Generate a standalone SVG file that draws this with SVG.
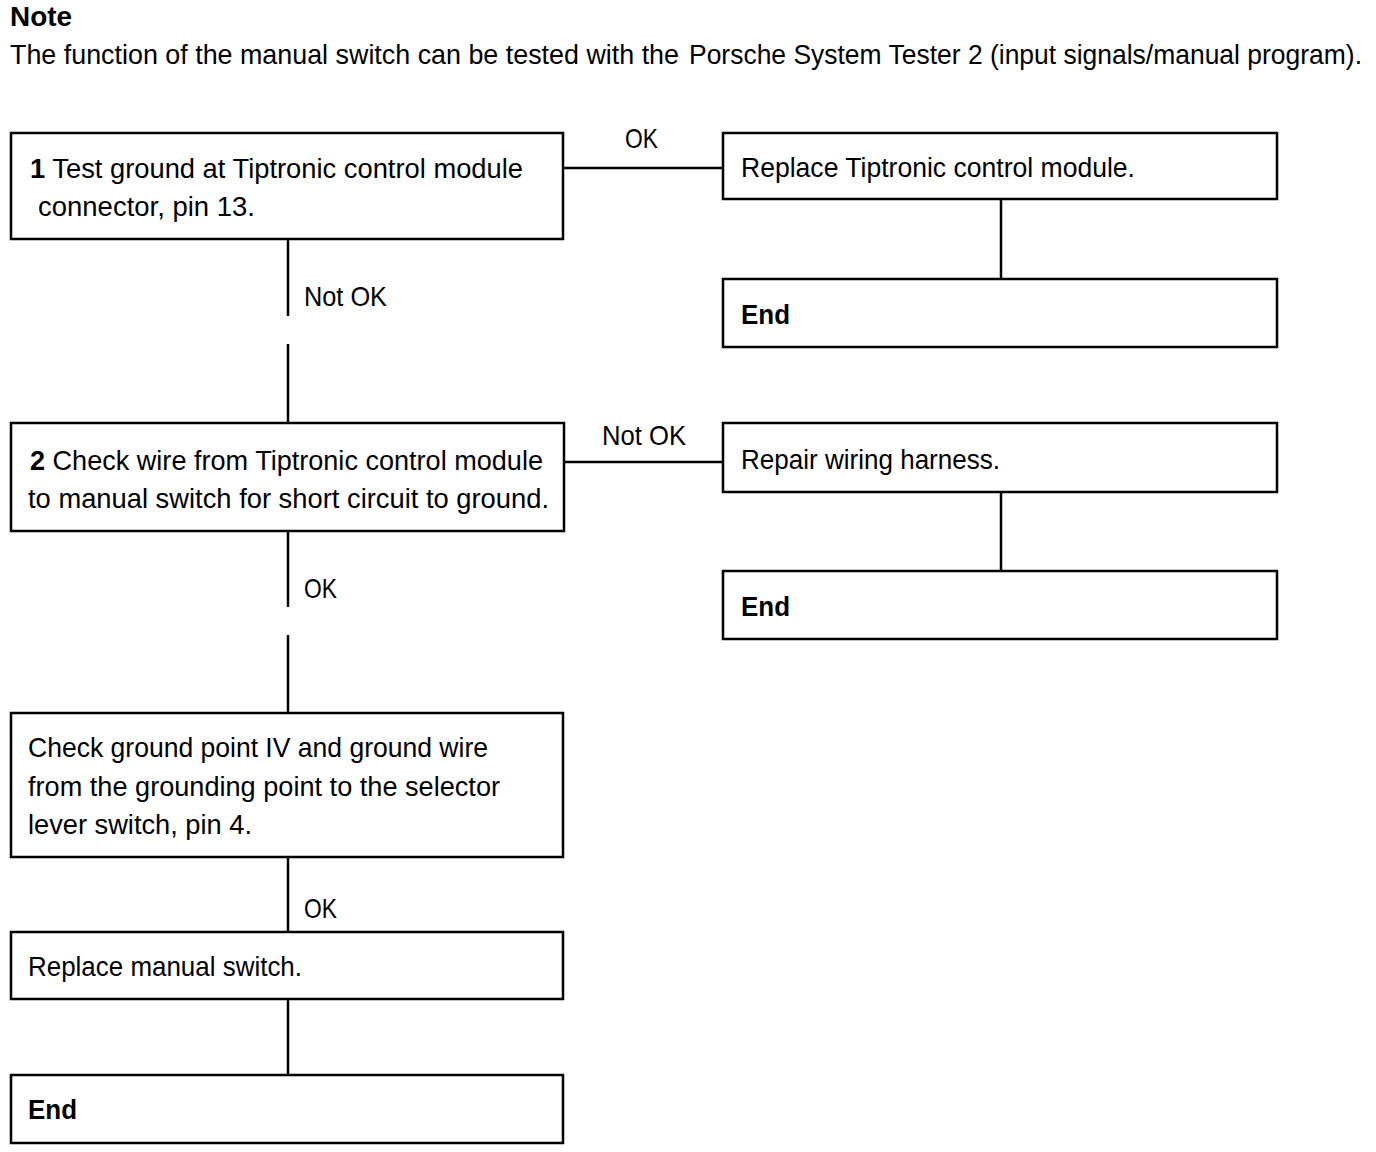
<svg xmlns="http://www.w3.org/2000/svg" width="1376" height="1152" viewBox="0 0 1376 1152">
<style>
.box{fill:#fff;stroke:#000;stroke-width:2.5}
.ln{stroke:#000;stroke-width:2.5;fill:none}
text{font-family:"Liberation Sans",Arial,sans-serif;font-size:27.5px;fill:#000}
.b{font-weight:bold}
</style>
<rect width="1376" height="1152" fill="#fff"/>
<g id="note">
<text x="10" y="26" class="b" textLength="62" lengthAdjust="spacingAndGlyphs">Note</text>
<text y="64" font-size="24"><tspan x="10" textLength="669" lengthAdjust="spacingAndGlyphs">The function of the manual switch can be tested with the</tspan><tspan x="689" textLength="673" lengthAdjust="spacingAndGlyphs">Porsche System Tester 2 (input signals/manual program).</tspan></text>
</g>
<g id="connectors">
<line class="ln" x1="563" y1="168" x2="723" y2="168"/>
<line class="ln" x1="1001" y1="199" x2="1001" y2="279"/>
<line class="ln" x1="288" y1="239" x2="288" y2="316"/>
<line class="ln" x1="288" y1="344" x2="288" y2="423"/>
<line class="ln" x1="564" y1="462" x2="723" y2="462"/>
<line class="ln" x1="1001" y1="492" x2="1001" y2="571"/>
<line class="ln" x1="288" y1="531" x2="288" y2="607"/>
<line class="ln" x1="288" y1="635" x2="288" y2="713"/>
<line class="ln" x1="288" y1="857" x2="288" y2="932"/>
<line class="ln" x1="288" y1="999" x2="288" y2="1075"/>
<text x="625" y="148" textLength="33" lengthAdjust="spacingAndGlyphs">OK</text>
<text x="304" y="306" textLength="83" lengthAdjust="spacingAndGlyphs">Not OK</text>
<text x="602" y="445" textLength="84" lengthAdjust="spacingAndGlyphs">Not OK</text>
<text x="304" y="598" textLength="33" lengthAdjust="spacingAndGlyphs">OK</text>
<text x="304" y="918" textLength="33" lengthAdjust="spacingAndGlyphs">OK</text>
</g>
<g id="step1">
<rect class="box" x="11" y="133" width="552" height="106"/>
<text x="30" y="178" textLength="493" lengthAdjust="spacingAndGlyphs"><tspan class="b">1</tspan> Test ground at Tiptronic control module</text>
<text x="38" y="216" textLength="217" lengthAdjust="spacingAndGlyphs">connector, pin 13.</text>
</g>
<g id="replace-module">
<rect class="box" x="723" y="133" width="554" height="66"/>
<text x="741" y="177" textLength="394" lengthAdjust="spacingAndGlyphs">Replace Tiptronic control module.</text>
</g>
<g id="end1">
<rect class="box" x="723" y="279" width="554" height="68"/>
<text x="741" y="324" class="b" textLength="49" lengthAdjust="spacingAndGlyphs">End</text>
</g>
<g id="step2">
<rect class="box" x="11" y="423" width="553" height="108"/>
<text x="30" y="470" textLength="513" lengthAdjust="spacingAndGlyphs"><tspan class="b">2</tspan> Check wire from Tiptronic control module</text>
<text x="28" y="508" textLength="521" lengthAdjust="spacingAndGlyphs">to manual switch for short circuit to ground.</text>
</g>
<g id="repair">
<rect class="box" x="723" y="423" width="554" height="69"/>
<text x="741" y="469" textLength="259" lengthAdjust="spacingAndGlyphs">Repair wiring harness.</text>
</g>
<g id="end2">
<rect class="box" x="723" y="571" width="554" height="68"/>
<text x="741" y="616" class="b" textLength="49" lengthAdjust="spacingAndGlyphs">End</text>
</g>
<g id="step3">
<rect class="box" x="11" y="713" width="552" height="144"/>
<text x="28" y="757" textLength="460" lengthAdjust="spacingAndGlyphs">Check ground point IV and ground wire</text>
<text x="28" y="796" textLength="472" lengthAdjust="spacingAndGlyphs">from the grounding point to the selector</text>
<text x="28" y="834" textLength="224" lengthAdjust="spacingAndGlyphs">lever switch, pin 4.</text>
</g>
<g id="replace-switch">
<rect class="box" x="11" y="932" width="552" height="67"/>
<text x="28" y="976" textLength="274" lengthAdjust="spacingAndGlyphs">Replace manual switch.</text>
</g>
<g id="end3">
<rect class="box" x="11" y="1075" width="552" height="68"/>
<text x="28" y="1119" class="b" textLength="49" lengthAdjust="spacingAndGlyphs">End</text>
</g>
</svg>
